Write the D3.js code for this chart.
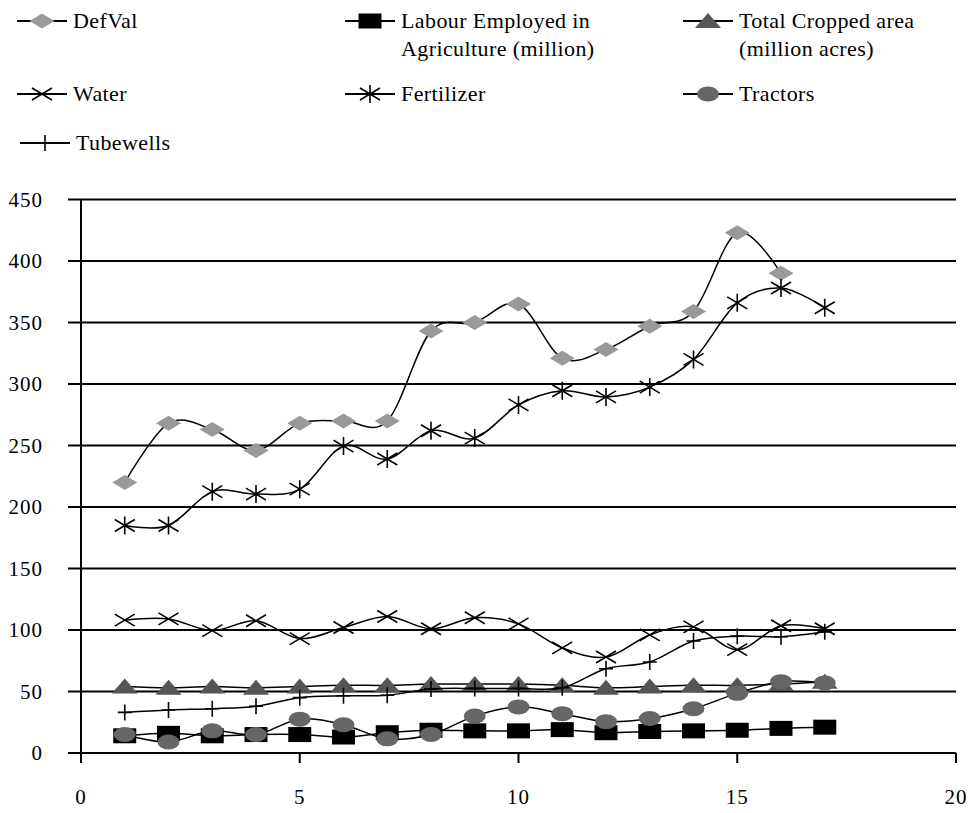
<!DOCTYPE html>
<meta charset="utf-8">
<script src="https://d3js.org/d3.v7.min.js"></script>
<style>
    body { margin: 0; background: #fff; }
    text { font-family: "Liberation Serif", "DejaVu Serif", serif; fill: #000; }
</style>
<body>
<div id="chart"></div>
</body>
<script>
    // values, x = 1..17
    const years = d3.range(1, 18);
    const defVal = [220, 268, 263, 246, 268, 270, 270, 343, 350, 365, 321, 328, 347, 359, 423, 390];
    const labour = [14, 16, 14, 15, 15, 13, 16.5, 18.5, 18, 18, 19, 16.5, 17.5, 18, 18.5, 20, 21];
    const cropped = [54, 53, 54, 53, 54, 55, 55, 56, 56, 56, 55, 53, 54, 55, 55, 56, 58];
    const water = [108, 109, 99.5, 107.5, 93, 102, 111, 101, 110, 105, 85.5, 78, 96, 102.5, 84, 103.5, 101];
    const fertilizer = [185, 185, 212.5, 210.5, 214.5, 249.5, 239, 262, 256, 283, 294.5, 289.5, 297.5, 320, 366, 378, 362];
    const tractors = [15, 9, 18, 15, 27.5, 23, 11.5, 15, 30, 37.5, 32, 25.5, 28, 36, 48.5, 58, 57];
    const tubewells = [33, 35, 36, 38, 45, 46.5, 47, 52, 52.5, 52.5, 53, 68.5, 74, 91, 95, 94.5, 98.5];

    const yTicks = [0, 50, 100, 150, 200, 250, 300, 350, 400, 450];
    const xTicks = [0, 5, 10, 15, 20];

    const series = [
        {name: ["DefVal"], values: defVal, marker: "diamond", fill: "#999999"},
        {name: ["Labour Employed in", "Agriculture (million)"], values: labour, marker: "square", fill: "#000000"},
        {name: ["Total Cropped area", "(million acres)"], values: cropped, marker: "triangle", fill: "#555555"},
        {name: ["Water"], values: water, marker: "cross", fill: "none"},
        {name: ["Fertilizer"], values: fertilizer, marker: "star", fill: "none"},
        {name: ["Tractors"], values: tractors, marker: "circle", fill: "#666666"},
        {name: ["Tubewells"], values: tubewells, marker: "plus", fill: "none"}
    ];

    const width = 971, height = 813;
    const svg = d3.select("#chart").append("svg")
        .attr("width", width)
        .attr("height", height);

    const x = d3.scaleLinear().domain([0, 20]).range([81, 956]);
    const y = d3.scaleLinear().domain([0, 450]).range([753, 199.5]);

    // gridlines + y axis
    svg.append("g")
        .selectAll("line")
        .data(yTicks)
        .enter().append("line")
        .attr("x1", 68).attr("x2", x(20))
        .attr("y1", d => y(d)).attr("y2", d => y(d))
        .attr("stroke", "#000").attr("stroke-width", 2);

    svg.append("line")
        .attr("x1", x(0)).attr("x2", x(0))
        .attr("y1", y(450)).attr("y2", y(0) + 10)
        .attr("stroke", "#000").attr("stroke-width", 2);

    svg.append("g")
        .selectAll("line")
        .data(xTicks)
        .enter().append("line")
        .attr("x1", d => x(d)).attr("x2", d => x(d))
        .attr("y1", y(0)).attr("y2", y(0) + 10)
        .attr("stroke", "#000").attr("stroke-width", 2);

    svg.append("g")
        .selectAll("text")
        .data(yTicks)
        .enter().append("text")
        .attr("x", 43)
        .attr("y", d => y(d) + 7)
        .attr("text-anchor", "end")
        .style("font-size", "21px")
        .style("letter-spacing", "1px")
        .text(d => d);

    svg.append("g")
        .selectAll("text")
        .data(xTicks)
        .enter().append("text")
        .attr("x", d => x(d))
        .attr("y", 804)
        .attr("text-anchor", "middle")
        .style("font-size", "21px")
        .style("letter-spacing", "1px")
        .text(d => d);

    function drawMarker(g, type, fill) {
        switch (type) {
            case "diamond":
                g.append("path").attr("d", "M-12.5,0L0,-7.5L12.5,0L0,7.5Z").attr("fill", fill);
                break;
            case "square":
                g.append("rect").attr("x", -11.5).attr("y", -7.5).attr("width", 23).attr("height", 15).attr("fill", fill);
                break;
            case "triangle":
                g.append("path").attr("d", "M-13,7L0,-8L13,7Z").attr("fill", fill);
                break;
            case "circle":
                g.append("ellipse").attr("rx", 11).attr("ry", 7.5).attr("fill", fill);
                break;
            case "cross":
                g.append("path").attr("d", "M-10,-6L10,6M-10,6L10,-6")
                    .attr("stroke", "#000").attr("stroke-width", 1.6);
                break;
            case "star":
                g.append("path").attr("d", "M-10,-6L10,6M-10,6L10,-6M0,-9L0,9")
                    .attr("stroke", "#000").attr("stroke-width", 1.6);
                break;
            case "plus":
                g.append("path").attr("d", "M-7,0L7,0M0,-8L0,8")
                    .attr("stroke", "#000").attr("stroke-width", 1.6);
                break;
        }
    }

    const line = d3.line()
        .x((d, i) => x(years[i]))
        .y(d => y(d))
        .curve(d3.curveCatmullRom.alpha(0));

    series.forEach(function (s) {
        const g = svg.append("g");
        g.append("path")
            .attr("d", line(s.values))
            .attr("fill", "none")
            .attr("stroke", "#000")
            .attr("stroke-width", 1.5);
        g.selectAll("g.m")
            .data(s.values)
            .enter().append("g")
            .attr("class", "m")
            .attr("transform", (d, i) => "translate(" + x(years[i]) + "," + y(d) + ")")
            .each(function () { drawMarker(d3.select(this), s.marker, s.fill); });
    });

    // legend
    const legendPos = [
        [17, 21], [345, 21], [683, 21],
        [17, 94], [345, 94], [683, 94],
        [20, 143]
    ];
    series.forEach(function (s, i) {
        const p = legendPos[i];
        const g = svg.append("g").attr("transform", "translate(" + p[0] + "," + p[1] + ")");
        g.append("line").attr("x1", 0).attr("x2", 50).attr("y1", 0).attr("y2", 0)
            .attr("stroke", "#000").attr("stroke-width", 2);
        const m = g.append("g").attr("transform", "translate(25,0)");
        drawMarker(m, s.marker, s.fill);
        s.name.forEach(function (t, j) {
            g.append("text")
                .attr("x", 56)
                .attr("y", 7 + j * 28)
                .style("font-size", "22px")
                .style("letter-spacing", "0.4px")
                .text(t);
        });
    });
</script>
</html>
